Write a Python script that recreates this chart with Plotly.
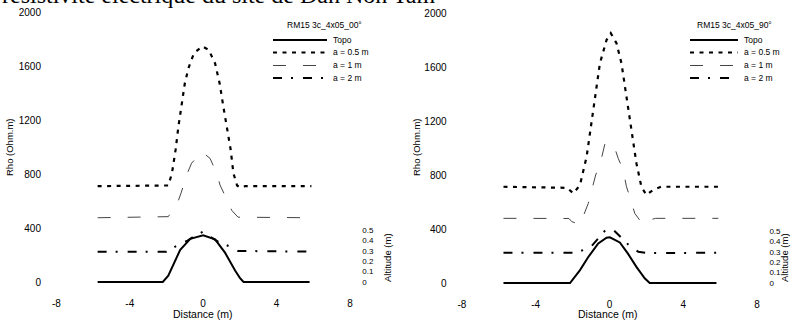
import plotly.graph_objects as go

W, H = 797, 321

# ---------------- data ----------------
# Left panel: RM15 3c_4x05_00°
x_topo_00 = [-5.75, -2.2, -1.9, -1.7, -1.25, -0.7, 0.0, 0.65, 1.2, 1.74, 2.0, 2.2, 5.8]
alt_topo_00 = [0, 0, 0.06, 0.14, 0.31, 0.415, 0.45, 0.41, 0.28, 0.11, 0.04, 0, 0]

x_a05_00 = [-5.75, -1.9, -1.7, -1.5, -1.35, -1.15, -1.0, -0.8, -0.5, -0.05, 0.3, 0.65, 0.9, 1.1, 1.3, 1.5, 1.65, 1.85, 2.0, 2.3, 5.9]
rho_a05_00 = [710, 715, 805, 980, 1150, 1335, 1470, 1585, 1695, 1745, 1720, 1620, 1470, 1300, 1150, 980, 805, 715, 700, 710, 710]

x_a1_00 = [-5.75, -1.9, -1.4, -1.2, -0.86, -0.63, -0.07, 0.38, 0.75, 0.92, 1.33, 1.56, 1.9, 5.9]
rho_a1_00 = [476, 484, 585, 660, 806, 880, 965, 915, 800, 718, 600, 530, 480, 476]

x_a2_00 = [-5.75, -2.0, -1.43, -0.85, -0.53, 0.0, 0.38, 0.83, 1.47, 1.9, 5.9]
rho_a2_00 = [225, 225, 270, 306, 335, 373, 335, 298, 262, 230, 225]

# Right panel: RM15 3c_4x05_90°
x_topo_90 = [-5.75, -2.14, -1.6, -1.15, -0.61, -0.16, 0.02, 0.56, 1.01, 1.46, 1.91, 2.18, 5.8]
alt_topo_90 = [0, 0, 0.124, 0.25, 0.38, 0.435, 0.44, 0.39, 0.28, 0.155, 0.045, 0, 0]

x_a05_90 = [-5.75, -2.3, -1.96, -1.6, -1.24, -0.97, -0.79, -0.52, -0.16, 0.07, 0.38, 0.65, 0.92, 1.19, 1.46, 1.73, 2.0, 2.36, 2.8, 5.9]
rho_a05_90 = [713, 705, 664, 726, 936, 1183, 1380, 1627, 1800, 1850, 1776, 1627, 1380, 1133, 887, 713, 652, 689, 713, 713]

x_a1_90 = [-5.75, -2.2, -2.05, -1.6, -1.15, -0.97, -0.75, -0.5, -0.25, 0.2, 0.47, 0.74, 0.92, 1.1, 1.37, 1.82, 2.2, 2.5, 5.9]
rho_a1_90 = [479, 478, 455, 432, 590, 676, 800, 886, 1030, 1035, 924, 838, 713, 640, 516, 432, 468, 479, 479]

x_a2_90 = [-5.75, -1.9, -1.42, -0.97, -0.2, 0.2, 1.13, 1.56, 2.0, 5.9]
rho_a2_90 = [224, 224, 244, 274, 395, 395, 269, 232, 222, 224]

x_ticks = [-8, -4, 0, 4, 8]
x_ticklabels = ["-8", "-4", "0", "4", "8"]
rho_ticks = [0, 400, 800, 1200, 1600, 2000]
rho_ticklabels = ["0", "400", "800", "1200", "1600", "2000"]
alt_ticks = [0, 0.1, 0.2, 0.3, 0.4, 0.5]
alt_ticklabels = ["0", "0.1", "0.2", "0.3", "0.4", "0.5"]

series_labels = ["Topo", "a = 0.5 m", "a = 1 m", "a = 2 m"]
legend_titles = ["RM15 3c_4x05_00°", "RM15 3c_4x05_90°"]
page_title = "résistivité électrique du site de Dan Non Tam"

# ---------------- styles ----------------
FONT = "Liberation Sans"
styles = [
    dict(color="black", width=2, dash="solid"),
    dict(color="black", width=2.2, dash="4px,5.5px"),
    dict(color="#444444", width=1, dash="13px,17px"),
    dict(color="black", width=2, dash="9px,9px,2px,10px"),
]

def px(x):
    return x / W

def py(y):
    return 1 - y / H

fig = go.Figure()

panels = [
    dict(x=[x_topo_00, x_a05_00, x_a1_00, x_a2_00],
         y=[alt_topo_00, rho_a05_00, rho_a1_00, rho_a2_00],
         xa="x", ya="y", ya_alt="y2"),
    dict(x=[x_topo_90, x_a05_90, x_a1_90, x_a2_90],
         y=[alt_topo_90, rho_a05_90, rho_a1_90, rho_a2_90],
         xa="x2", ya="y3", ya_alt="y4"),
]

for p in panels:
    for i in range(4):
        fig.add_trace(go.Scatter(
            x=p["x"][i], y=p["y"][i], mode="lines",
            line=styles[i], name=series_labels[i], showlegend=False,
            xaxis=p["xa"], yaxis=p["ya_alt"] if i == 0 else p["ya"],
        ))

# panel geometry (pixels)
L_left, L_right = 49.0, 357.3
R_left, R_right = 454.6, 764.4
L_top, L_bot = 12.0, 295.5
R_top, R_bot = 13.0, 296.5

rho_range = [-100, 2000]
alt_range = [-100 / 770.0, 2000 / 770.0]

tick_font = dict(family=FONT, size=10, color="black")
alt_font = dict(family=FONT, size=8, color="black")

def xaxis(dom, anchor):
    return dict(domain=dom, range=[-8.4, 8.4], tickvals=x_ticks, ticktext=x_ticklabels,
                showgrid=False, zeroline=False, showline=False, ticks="",
                tickfont=tick_font, anchor=anchor, automargin=False)

def yaxis(dom, anchor):
    return dict(domain=dom, range=rho_range, tickvals=rho_ticks, ticktext=rho_ticklabels,
                showgrid=False, zeroline=False, showline=False, ticks="",
                tickfont=tick_font, anchor=anchor, ticklabelstandoff=7, automargin=False)

def altaxis(over, anchor):
    return dict(overlaying=over, side="right", anchor=anchor, range=alt_range,
                tickvals=alt_ticks, ticktext=alt_ticklabels,
                showgrid=False, zeroline=False, showline=False, ticks="",
                tickfont=alt_font, ticklabelstandoff=4, automargin=False)

fig.update_layout(
    width=W, height=H,
    margin=dict(l=0, r=0, t=0, b=0, autoexpand=False),
    paper_bgcolor="white", plot_bgcolor="white",
    showlegend=False,
    xaxis=xaxis([px(L_left), px(L_right)], "y"),
    yaxis=yaxis([py(L_bot), py(L_top)], "x"),
    yaxis2=altaxis("y", "x"),
    xaxis2=xaxis([px(R_left), px(R_right)], "y3"),
    yaxis3=yaxis([py(R_bot), py(R_top)], "x2"),
    yaxis4=altaxis("y3", "x2"),
)

ann = []
shapes = []
# page title (cut off at top, as in the scan)
ann.append(dict(text=page_title, x=0, y=py(10.5), xref="paper", yref="paper",
                xanchor="left", yanchor="bottom", showarrow=False,
                font=dict(family="Liberation Serif", size=24, color="black")))

axis_font = dict(family=FONT, size=9.5, color="black")
for cx, cxr, ra in [(10, 203, 387), (417, 608, 784)]:
    ann.append(dict(text="Rho (Ohm.m)", x=px(cx), y=py(147), xref="paper", yref="paper",
                    xanchor="center", yanchor="middle",
                    textangle=-90, showarrow=False, font=axis_font))
    ann.append(dict(text="Distance (m)", x=px(cxr), y=py(313.5), xref="paper", yref="paper",
                    xanchor="center", yanchor="middle",
                    showarrow=False, font=dict(family=FONT, size=10.5, color="black")))
    ann.append(dict(text="Altitude (m)", x=px(ra), y=py(258), xref="paper", yref="paper",
                    xanchor="center", yanchor="middle",
                    textangle=-90, showarrow=False, font=axis_font))

# manual legends
leg_font = dict(family=FONT, size=8.5, color="black")
rows = [40, 52.5, 65.5, 78]
for title, tx, lx0, lx1, txt_x in [(legend_titles[0], 285, 273, 327, 331),
                                   (legend_titles[1], 695, 690, 738, 742)]:
    ann.append(dict(text=title, x=px(tx), y=py(25), xref="paper", yref="paper",
                    xanchor="left", yanchor="middle", showarrow=False, font=leg_font))
    for i, r in enumerate(rows):
        shapes.append(dict(type="line", xref="paper", yref="paper",
                           x0=px(lx0), x1=px(lx1), y0=py(r), y1=py(r),
                           line=styles[i]))
        ann.append(dict(text=series_labels[i], x=px(txt_x), y=py(r), xref="paper", yref="paper",
                        xanchor="left", yanchor="middle", showarrow=False, font=leg_font))

fig.update_layout(annotations=ann, shapes=shapes)
fig.write_html("out.html", config={"displayModeBar": False},
               post_script="document.body.style.margin='0px';document.body.style.overflow='hidden';")
